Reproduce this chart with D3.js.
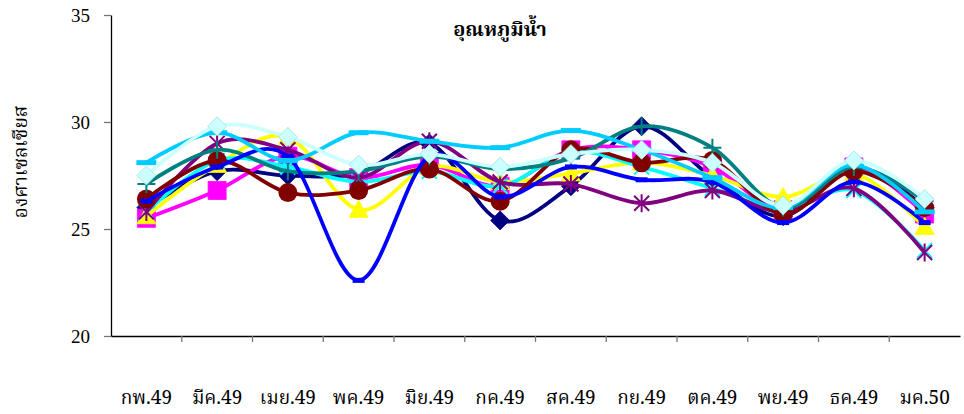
<!DOCTYPE html>
<html>
<head>
<meta charset="utf-8">
<script src="https://cdn.jsdelivr.net/npm/d3@7"></script>
<style>
  html, body { margin: 0; padding: 0; background: #fff; }
  svg { display: block; }
  .tick-num { font-family: "Liberation Serif", "Times New Roman", serif; font-size: 19px; fill: #000; }
  .thai { font-family: "Noto Serif Thai", "Norasi", "Garuda", "Noto Sans Thai", "Noto Sans", "DejaVu Sans", sans-serif; fill: #000; }
</style>
</head>
<body>
<svg id="chart" width="964" height="414"></svg>
<script>
// Monthly water temperature (°C), one series per sampling station
const months = ["กพ.49", "มีค.49", "เมย.49", "พค.49", "มิย.49", "กค.49", "สค.49", "กย.49", "ตค.49", "พย.49", "ธค.49", "มค.50"];
const yTicks = [20, 25, 30, 35];

const s1 = [26.0, 27.7, 27.5, 27.6, 29.0, 25.4, 27.0, 29.8, 27.4, 25.6, 27.9, 26.0];
const s2 = [25.5, 26.8, 28.4, 27.4, 28.0, 27.0, 28.7, 28.7, 27.9, 25.9, 27.9, 25.7];
const s3 = [25.6, 28.0, 29.3, 25.9, 27.9, 27.2, 27.6, 28.1, 27.5, 26.5, 27.6, 25.1];
const s4 = [25.8, 28.2, 27.9, 27.2, 27.7, 27.0, 28.6, 27.9, 26.9, 25.9, 26.8, 24.0];
const s5 = [25.8, 29.0, 28.7, 27.4, 29.1, 27.2, 27.1, 26.2, 26.8, 25.8, 26.9, 23.9];
const s6 = [26.4, 28.2, 26.7, 26.8, 27.8, 26.3, 28.7, 28.1, 28.2, 25.7, 27.7, 26.0];
const s7 = [27.1, 28.7, 27.7, 27.7, 28.4, 27.8, 28.3, 29.8, 28.8, 26.0, 27.9, 26.3];
const s8 = [26.3, 27.9, 28.4, 22.6, 28.4, 26.5, 27.9, 27.3, 27.2, 25.3, 27.2, 25.3];
const s9 = [28.1, 29.5, 28.2, 29.5, 29.1, 28.8, 29.6, 28.7, 27.4, 26.0, 28.0, 25.8];
const s10 = [27.5, 29.8, 29.3, 28.0, 28.5, 27.9, 28.5, 28.7, 28.1, 26.1, 28.2, 26.4];

const seriesValues = [s1, s2, s3, s4, s5, s6, s7, s8, s9, s10];
const seriesColors = ["#000080", "#FF00FF", "#FFFF00", "#00FFFF", "#800080", "#800000", "#008080", "#0000FF", "#00CCFF", "#CCFFFF"];
const seriesMarkers = ["diamond", "square", "triangle", "x", "star", "circle", "plus", "dash", "longdash", "diamond"];

const svg = d3.select("#chart");
const plotLeft = 111, plotRight = 960, plotTop = 15, plotBottom = 336;

const x = d3.scaleBand().domain(months).range([plotLeft, plotRight]).paddingInner(0).paddingOuter(0);
const y = d3.scaleLinear().domain([20, 35]).range([plotBottom, plotTop]);
const cx = d => x(d) + x.bandwidth() / 2;

// Title
svg.append("text")
  .attr("class", "thai")
  .attr("x", 500).attr("y", 36)
  .attr("text-anchor", "middle")
  .attr("font-size", 20).attr("font-weight", "bold")
  .text("อุณหภูมิน้ำ");

// Y axis label
svg.append("text")
  .attr("class", "thai")
  .attr("transform", "translate(27,162) rotate(-90)")
  .attr("text-anchor", "middle")
  .attr("font-size", 19)
  .text("องศาเซลเซียส");

// Y axis
const yAxis = svg.append("g")
  .attr("transform", `translate(${plotLeft},0)`)
  .call(d3.axisLeft(y).tickValues(yTicks).tickSize(7).tickPadding(14).tickSizeOuter(0));
yAxis.select(".domain").attr("stroke", "#000").attr("stroke-width", 1.3);
yAxis.selectAll(".tick line").attr("stroke", "#777").attr("stroke-width", 1.3);
yAxis.selectAll(".tick text").attr("class", "tick-num").attr("font-size", null).attr("font-family", null);

// X axis with ticks at category boundaries
const xAxis = svg.append("g")
  .attr("transform", `translate(0,${plotBottom})`)
  .call(d3.axisBottom(x).tickSize(0).tickPadding(55).tickSizeOuter(0));
xAxis.select(".domain").attr("stroke", "#000").attr("stroke-width", 1.3);
xAxis.selectAll(".tick text")
  .attr("class", "thai")
  .attr("font-size", 19)
  .attr("font-family", null);
xAxis.selectAll(".boundary")
  .data(months.slice(1))
  .enter().append("line")
  .attr("class", "boundary")
  .attr("x1", d => x(d)).attr("x2", d => x(d))
  .attr("y1", 0).attr("y2", 6)
  .attr("stroke", "#777").attr("stroke-width", 1.3);

// Marker shapes
function markerPath(type, s) {
  const h = s / 2;
  switch (type) {
    case "diamond": return `M0,${-h}L${h},0L0,${h}L${-h},0Z`;
    case "square": return `M${-h},${-h}H${h}V${h}H${-h}Z`;
    case "triangle": return `M0,${-h}L${h},${h * 0.8}L${-h},${h * 0.8}Z`;
    case "x": return `M${-h},${-h}L${h},${h}M${h},${-h}L${-h},${h}`;
    case "star": return `M${-h},${-h}L${h},${h}M${h},${-h}L${-h},${h}M0,${-h * 1.2}V${h * 1.2}`;
    case "plus": return `M${-h},0H${h}M0,${-h}V${h}`;
    case "dash": return `M${-h},0H${h}`;
    case "longdash": return `M${-h},0H${h}`;
    default: return "";
  }
}
const markerSize = { diamond: 19, square: 18, triangle: 19, x: 15, star: 15, circle: 19, plus: 18, dash: 12, longdash: 20 };

const line = d3.line()
  .x((d, i) => cx(months[i]))
  .y(d => y(d))
  .curve(d3.curveCatmullRom.alpha(0));

seriesValues.forEach((vals, k) => {
  const color = seriesColors[k];
  const type = seriesMarkers[k];
  const g = svg.append("g");
  g.append("path")
    .datum(vals)
    .attr("d", line)
    .attr("fill", "none")
    .attr("stroke", color)
    .attr("stroke-width", 3.8)
    .attr("stroke-linejoin", "round");
  const m = g.selectAll(".m").data(vals).enter();
  if (type === "circle") {
    m.append("circle")
      .attr("cx", (d, i) => cx(months[i]))
      .attr("cy", d => y(d))
      .attr("r", markerSize.circle / 2)
      .attr("fill", color);
  } else {
    const filled = ["diamond", "square", "triangle"].includes(type);
    m.append("path")
      .attr("transform", (d, i) => `translate(${cx(months[i])},${y(d)})`)
      .attr("d", markerPath(type, markerSize[type]))
      .attr("fill", filled ? color : "none")
      .attr("stroke", filled ? (k === 9 ? "#9fdede" : color) : color)
      .attr("stroke-width", filled ? 0.8 : (type === "dash" || type === "longdash" ? 5 : 2));
  }
});
</script>
</body>
</html>
